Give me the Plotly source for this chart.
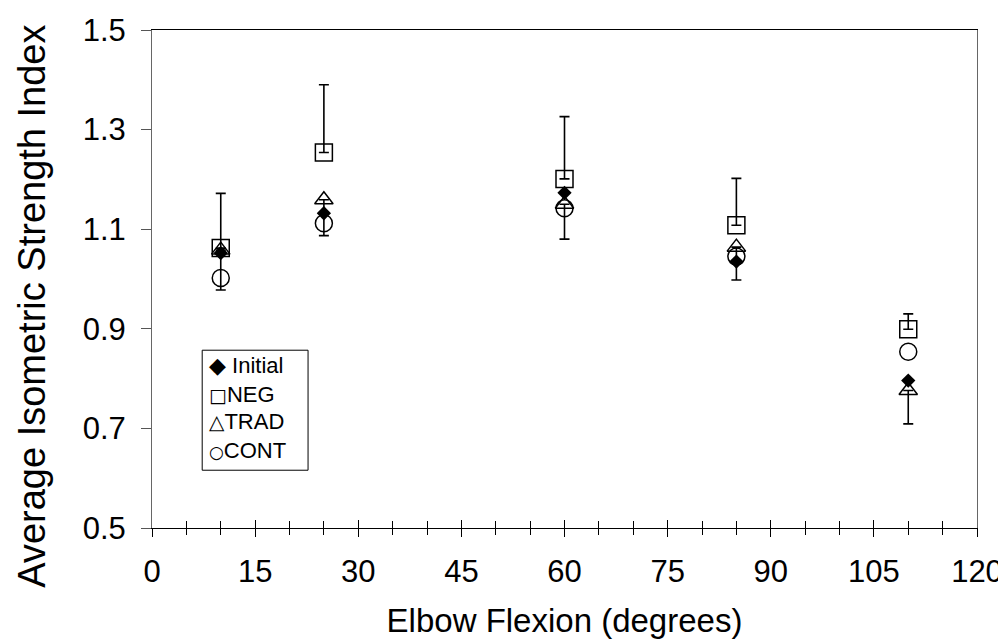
import plotly.graph_objects as go

angles = [10, 25, 60, 85, 110]
initial = [1.052, 1.132, 1.173, 1.035, 0.796]
neg = [1.062, 1.254, 1.201, 1.108, 0.899]
trad = [1.058, 1.159, 1.150, 1.064, 0.776]
cont = [1.002, 1.112, 1.142, 1.045, 0.854]
neg_err_plus = [0.110, 0.136, 0.125, 0.094, 0.031]
trad_err_minus = [0.080, 0.072, 0.070, 0.066, 0.067]

x_ticks = [0, 15, 30, 45, 60, 75, 90, 105, 120]
y_ticks = [0.5, 0.7, 0.9, 1.1, 1.3, 1.5]

legend_symbols = ["◆", "□", "△", "○"]
legend_symbol_px = [22, 19, 20, 17]
legend_names = [" Initial", "NEG", "TRAD", "CONT"]
legend_rows_y = [0.826, 0.769, 0.713, 0.655]

FONT = "Liberation Sans, Arial, sans-serif"

fig = go.Figure()
fig.add_trace(go.Scatter(
    x=angles, y=neg, mode="markers", name="NEG",
    marker=dict(symbol="square-open", size=17, color="black", line=dict(width=1.5)),
    error_y=dict(type="data", symmetric=False, array=neg_err_plus,
                 arrayminus=[0] * len(angles), color="black", thickness=1.6, width=5),
))
fig.add_trace(go.Scatter(
    x=angles, y=trad, mode="markers", name="TRAD",
    marker=dict(symbol="triangle-up-open", size=16, color="black", line=dict(width=1.5)),
    error_y=dict(type="data", symmetric=False, array=[0] * len(angles),
                 arrayminus=trad_err_minus, color="black", thickness=1.6, width=5),
))
fig.add_trace(go.Scatter(
    x=angles, y=cont, mode="markers", name="CONT",
    marker=dict(symbol="circle-open", size=17, color="black", line=dict(width=1.5)),
))
fig.add_trace(go.Scatter(
    x=angles, y=initial, mode="markers", name="Initial",
    marker=dict(symbol="diamond", size=11, color="black", line=dict(width=0)),
))
# helper trace for the overlaid axis that draws the inner half of the cross ticks
fig.add_trace(go.Scatter(x=[None], y=[None], xaxis="x2", showlegend=False,
                         hoverinfo="skip", mode="markers"))

# legend box drawn as text, like the original
fig.add_shape(type="rect", xref="x", yref="y", x0=7.3, x1=22.7, y0=0.616, y1=0.857,
              line=dict(color="black", width=1), fillcolor="white", layer="above")
for sym, spx, lab, yy in zip(legend_symbols, legend_symbol_px, legend_names, legend_rows_y):
    fig.add_annotation(
        x=8.0, y=yy, xref="x", yref="y",
        text=f"<span style='font-family:DejaVu Sans;font-size:{spx}px'>{sym}</span>{lab}",
        showarrow=False, xanchor="left", yanchor="middle",
        font=dict(size=22, family=FONT, color="black"))

# y axis title (centred a little below the plot centre, as in the original)
fig.add_annotation(
    x=-0.145, y=0.445, xref="paper", yref="paper",
    text="Average Isometric Strength Index", textangle=-90, showarrow=False,
    xanchor="center", yanchor="middle",
    font=dict(size=38, family=FONT, color="black"))

fig.update_layout(
    width=998, height=631,
    margin=dict(l=144, r=29, t=22, b=111),
    paper_bgcolor="white", plot_bgcolor="white",
    font=dict(family=FONT, color="black"),
    showlegend=False,
    xaxis=dict(
        range=[0, 120], tickvals=x_ticks, ticks="outside", ticklen=8,
        tickwidth=1, tickcolor="black",
        minor=dict(dtick=5, ticks="outside", ticklen=6, tickcolor="black", tickwidth=1),
        showgrid=False, zeroline=False, automargin=False,
        showline=True, linecolor="black", linewidth=1, mirror=True,
        tickfont=dict(size=31, family=FONT, color="black"),
        ticklabelstandoff=8, ticklabeloverflow="allow",
        title=dict(text="Elbow Flexion (degrees)", font=dict(size=33, family=FONT, color="black"),
                   standoff=26),
    ),
    xaxis2=dict(
        overlaying="x", anchor="y", side="bottom",
        range=[0, 120], tickvals=x_ticks, ticks="inside", ticklen=8,
        tickcolor="black", tickwidth=1,
        minor=dict(dtick=5, ticks="inside", ticklen=7, tickcolor="black", tickwidth=1),
        showticklabels=False, showgrid=False, zeroline=False, showline=False,
    ),
    yaxis=dict(
        range=[0.5, 1.5], tickvals=y_ticks, ticktext=[f"{v:.1f}" for v in y_ticks],
        ticks="outside", ticklen=10, tickwidth=1, tickcolor="#555555",
        showgrid=False, zeroline=False, automargin=False,
        showline=True, linecolor="#666666", linewidth=1, mirror=True,
        tickfont=dict(size=31, family=FONT, color="black"),
        ticklabelstandoff=9,
    ),
)

fig.write_html("out.html")
